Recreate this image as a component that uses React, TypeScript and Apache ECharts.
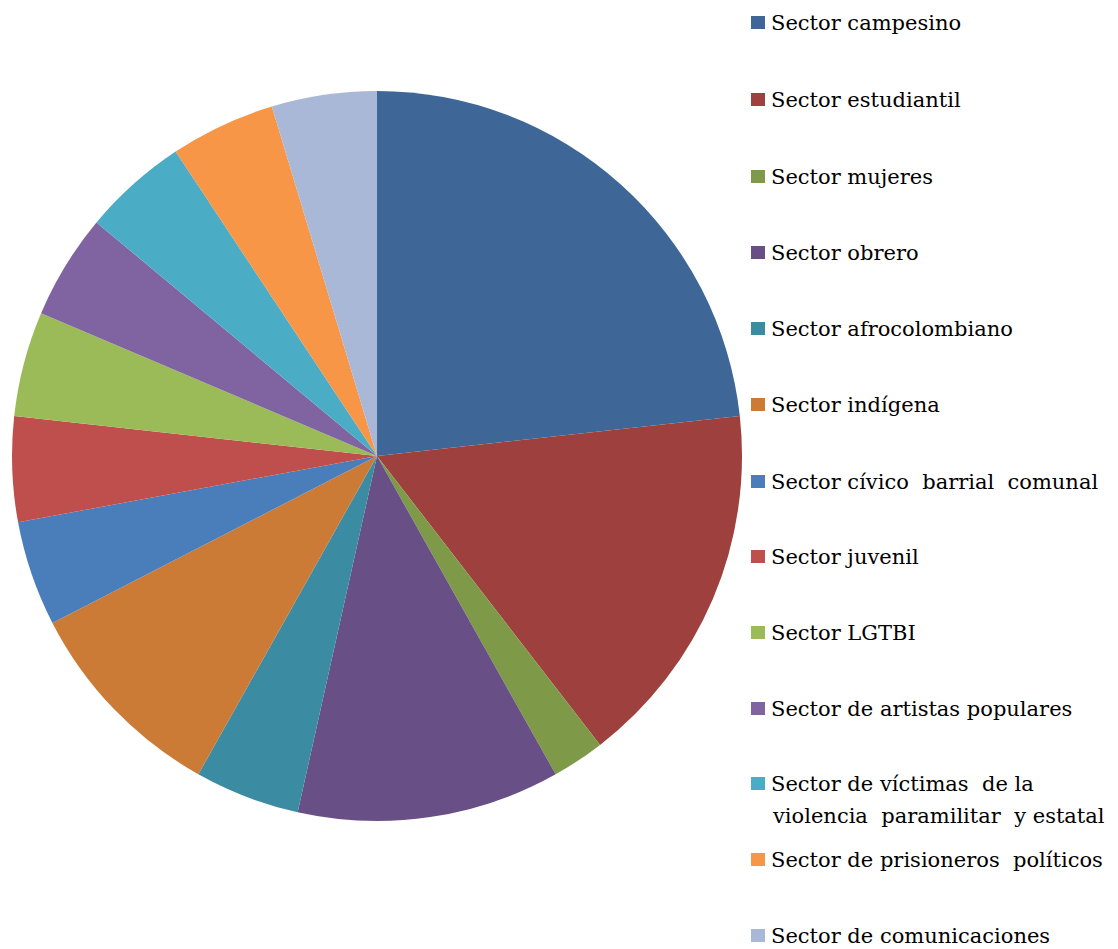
import React, { useEffect, useRef } from "react";
import * as echarts from "echarts";

const categories = [
  "Sector campesino",
  "Sector estudiantil",
  "Sector mujeres",
  "Sector obrero",
  "Sector afrocolombiano",
  "Sector indígena",
  "Sector cívico  barrial  comunal",
  "Sector juvenil",
  "Sector LGTBI",
  "Sector de artistas populares",
  "Sector de víctimas  de la",
  "Sector de prisioneros  políticos",
  "Sector de comunicaciones",
];
const values = [10, 7, 1, 5, 2, 4, 2, 2, 2, 2, 2, 2, 2];
const colors = [
  "#3E6797",
  "#9D403E",
  "#7E9A48",
  "#684F86",
  "#3B8BA2",
  "#CC7B37",
  "#4A7EBB",
  "#BE4F4C",
  "#9BBB59",
  "#8064A2",
  "#4BACC6",
  "#F79646",
  "#A9B8D6",
];
const legendCenters = [24, 101, 178, 254, 330, 406, 483, 558, 634, 710, 785, 861, 937];
const secondLine = "violencia  paramilitar  y estatal";

export default function App() {
  const ref = useRef<HTMLDivElement>(null);
  useEffect(() => {
    if (!ref.current) return;
    const chart = echarts.init(ref.current, null, { renderer: "svg" });
    const font = "DejaVu Serif";
    const textStyle = {
      fontFamily: font,
      fontSize: 21,
      color: "#000",
      padding: [0, 0, 0, 1],
    };
    chart.setOption({
      animation: false,
      color: colors,
      legend: categories.map((name, i) => ({
        orient: "vertical",
        left: 751,
        top: legendCenters[i] - 12,
        padding: 0,
        itemWidth: 14,
        itemHeight: 13,
        icon: "rect",
        data: [name],
        selectedMode: false,
        textStyle,
      })),
      graphic: [
        {
          type: "text",
          left: 773,
          top: 805,
          style: {
            text: secondLine,
            fontFamily: font,
            fontSize: 21,
            fill: "#000",
            whiteSpace: "pre",
          },
        },
      ],
      series: [
        {
          type: "pie",
          center: [377, 456],
          radius: 365,
          startAngle: 90,
          clockwise: true,
          label: { show: false },
          labelLine: { show: false },
          silent: true,
          itemStyle: { borderWidth: 0 },
          data: categories.map((name, i) => ({ name, value: values[i] })),
        },
      ],
    });
    return () => chart.dispose();
  }, []);
  return (
    <div
      ref={ref}
      style={{ position: "absolute", left: 0, top: 0, width: 1118, height: 949 }}
    />
  );
}
